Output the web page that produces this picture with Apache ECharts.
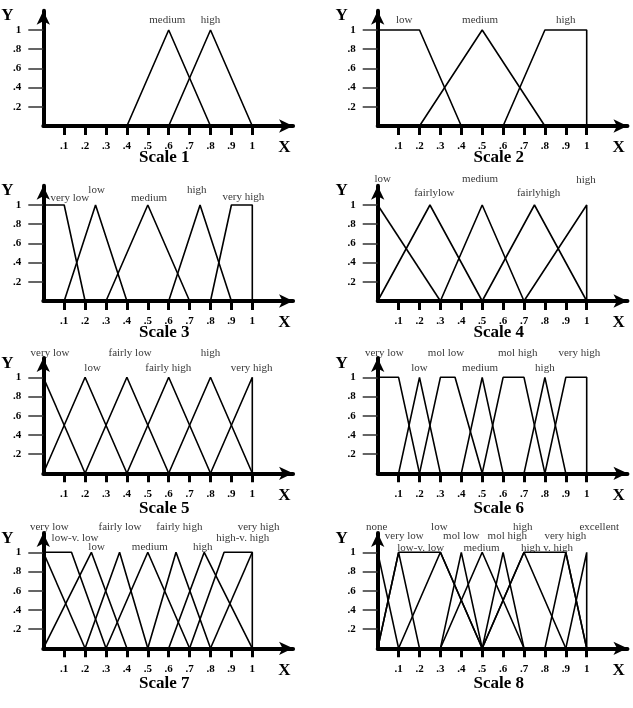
<!DOCTYPE html>
<html><head><meta charset="utf-8">
<script src="https://cdn.jsdelivr.net/npm/echarts@6/dist/echarts.min.js"></script>
<style>html,body{margin:0;padding:0;background:#fff}#c{width:633px;height:708px}</style>
</head><body><div id="c"></div>
<script>
// ---- tick values and labels ----
const xTicks = [0.1,0.2,0.3,0.4,0.5,0.6,0.7,0.8,0.9,1];
const xTickLabels = ['.1','.2','.3','.4','.5','.6','.7','.8','.9','1'];
const yTicks = [0.2,0.4,0.6,0.8,1];
const yTickLabels = ['.2','.4','.6','.8','1'];
const scaleTitles = ['Scale 1','Scale 2','Scale 3','Scale 4','Scale 5','Scale 6','Scale 7','Scale 8'];

// ---- Scale 1 ----
const s1Terms = ['medium','high'];
const s1Curves = [
  [[0.4,0],[0.6,1],[0.8,0]],
  [[0.6,0],[0.8,1],[1,0]]
];
// ---- Scale 2 ----
const s2Terms = ['low','medium','high'];
const s2Curves = [
  [[0,1],[0.2,1],[0.4,0]],
  [[0.2,0],[0.5,1],[0.8,0]],
  [[0.6,0],[0.8,1],[1,1],[1,0]]
];
// ---- Scale 3 ----
const s3Terms = ['very low','low','medium','high','very high'];
const s3Curves = [
  [[0,1],[0.1,1],[0.2,0]],
  [[0.1,0],[0.25,1],[0.4,0]],
  [[0.3,0],[0.5,1],[0.7,0]],
  [[0.6,0],[0.75,1],[0.9,0]],
  [[0.8,0],[0.9,1],[1,1],[1,0]]
];
// ---- Scale 4 ----
const s4Terms = ['low','fairlylow','medium','fairlyhigh','high'];
const s4Curves = [
  [[0,1],[0.3,0]],
  [[0,0],[0.25,1],[0.5,0]],
  [[0.3,0],[0.5,1],[0.7,0]],
  [[0.5,0],[0.75,1],[1,0]],
  [[0.7,0],[1,1],[1,0]]
];
// ---- Scale 5 ----
const s5Terms = ['very low','low','fairly low','fairly high','high','very high'];
const s5Curves = [
  [[0,1],[0.2,0]],
  [[0,0],[0.2,1],[0.4,0]],
  [[0.2,0],[0.4,1],[0.6,0]],
  [[0.4,0],[0.6,1],[0.8,0]],
  [[0.6,0],[0.8,1],[1,0]],
  [[0.8,0],[1,1],[1,0]]
];
// ---- Scale 6 ----
const s6Terms = ['very low','low','mol low','medium','mol high','high','very high'];
const s6Curves = [
  [[0,1],[0.1,1],[0.2,0]],
  [[0.1,0],[0.2,1],[0.3,0]],
  [[0.2,0],[0.3,1],[0.37,1],[0.5,0]],
  [[0.4,0],[0.5,1],[0.6,0]],
  [[0.5,0],[0.6,1],[0.7,1],[0.8,0]],
  [[0.7,0],[0.8,1],[0.9,0]],
  [[0.8,0],[0.9,1],[1,1],[1,0]]
];
// ---- Scale 7 ----
const s7Terms = ['very low','low-v. low','low','fairly low','medium','fairly high','high','high-v. high','very high'];
const s7Curves = [
  [[0,1],[0.135,1],[0.3,0]],
  [[0,1],[0.2,0]],
  [[0,0],[0.23,1],[0.4,0]],
  [[0.2,0],[0.365,1],[0.5,0]],
  [[0.3,0],[0.5,1],[0.7,0]],
  [[0.5,0],[0.635,1],[0.8,0]],
  [[0.6,0],[0.77,1],[1,0]],
  [[0.8,0],[1,1]],
  [[0.7,0],[0.865,1],[1,1],[1,0]]
];
// ---- Scale 8 ----
const s8Terms = ['none','very low','low-v. low','low','mol low','medium','mol high','high','high v. high','very high','excellent'];
const s8Curves = [
  [[0,1],[0.1,0]],
  [[0,0],[0.1,1],[0.2,0]],
  [[0,0],[0.1,1],[0.3,1],[0.5,0]],
  [[0.1,0],[0.3,1],[0.5,0]],
  [[0.3,0],[0.4,1],[0.5,0]],
  [[0.3,0],[0.5,1],[0.7,0]],
  [[0.5,0],[0.6,1],[0.7,0]],
  [[0.5,0],[0.7,1],[0.9,0]],
  [[0.5,0],[0.7,1],[0.9,1],[1,0]],
  [[0.8,0],[0.9,1],[1,0]],
  [[0.9,0],[1,1],[1,0]]
];

// ---- layout (positions of term labels, in axis units) ----
const s1LabelPos = [[0.593,1.10],[0.80,1.10]];
const s2LabelPos = [[0.127,1.10],[0.49,1.10],[0.90,1.10]];
const s3LabelPos = [[0.127,1.07],[0.255,1.16],[0.506,1.075],[0.734,1.16],[0.957,1.085]];
const s4LabelPos = [[0.024,1.27],[0.271,1.12],[0.49,1.27],[0.77,1.12],[0.997,1.26]];
const s5LabelPos = [[0.032,1.25],[0.236,1.10],[0.415,1.25],[0.598,1.10],[0.80,1.25],[0.997,1.10]];
const s6LabelPos = [[0.032,1.25],[0.20,1.10],[0.327,1.25],[0.49,1.10],[0.67,1.25],[0.80,1.10],[0.965,1.25]];
const s7LabelPos = [[0.029,1.266],[0.152,1.15],[0.255,1.056],[0.367,1.266],[0.51,1.056],[0.651,1.266],[0.763,1.056],[0.954,1.15],[1.03,1.266]];
const s8LabelPos = [[-0.005,1.266],[0.127,1.17],[0.206,1.046],[0.295,1.266],[0.40,1.17],[0.497,1.046],[0.62,1.17],[0.694,1.266],[0.81,1.046],[0.898,1.17],[1.06,1.266]];

const panels = [
  [s1Terms,s1Curves,s1LabelPos],[s2Terms,s2Curves,s2LabelPos],
  [s3Terms,s3Curves,s3LabelPos],[s4Terms,s4Curves,s4LabelPos],
  [s5Terms,s5Curves,s5LabelPos],[s6Terms,s6Curves,s6LabelPos],
  [s7Terms,s7Curves,s7LabelPos],[s8Terms,s8Curves,s8LabelPos]
];

const colX = [43.3, 377.7];
const rowY = [126, 301, 473.3, 648.3];
const unitX = 209, unitY = 96;
const xMax = 1.195, yMax = 1.2;
const serif = 'Liberation Serif';

function lab(vals, labels){
  return v => { const i = vals.findIndex(t => Math.abs(t - v) < 1e-6); return i < 0 ? '' : labels[i]; };
}

const grids = [], xAxes = [], yAxes = [], series = [], graphics = [];
panels.forEach((p, i) => {
  const ox = colX[i % 2], oy = rowY[Math.floor(i / 2)];
  const row = Math.floor(i / 2);
  grids.push({left: ox, top: oy - yMax * unitY, width: xMax * unitX, height: yMax * unitY, outerBoundsMode: 'none', containLabel: false});
  xAxes.push({
    gridIndex: i, type: 'value', min: 0, max: xMax,
    axisLine: {show: true, onZero: false, symbol: ['none','arrow'], symbolSize: [10,14], lineStyle: {color: '#000', width: 4}},
    axisTick: {show: true, customValues: xTicks, length: 9, lineStyle: {color: '#000', width: 3}},
    axisLabel: {show: true, customValues: xTicks, formatter: lab(xTicks, xTickLabels), margin: 15,
      fontFamily: serif, fontWeight: 'bold', fontSize: 11, color: '#000'},
    splitLine: {show: false}
  });
  yAxes.push({
    gridIndex: i, type: 'value', min: 0, max: yMax,
    axisLine: {show: true, onZero: false, symbol: ['none','arrow'], symbolSize: [10,14], lineStyle: {color: '#000', width: 4}},
    axisTick: {show: true, customValues: yTicks, length: 15, lineStyle: {color: '#333', width: 1.5}},
    axisLabel: {show: true, customValues: yTicks, formatter: lab(yTicks, yTickLabels), margin: 22,
      fontFamily: serif, fontWeight: 'bold', fontSize: 11, color: '#000'},
    splitLine: {show: false}
  });
  const [terms, curves, pos] = p;
  curves.forEach((c, k) => {
    series.push({type: 'line', name: terms[k], xAxisIndex: i, yAxisIndex: i, data: c,
      showSymbol: false, symbol: 'none', clip: false, silent: true,
      lineStyle: {color: '#000', width: 1.6}});
  });
  series.push({type: 'scatter', xAxisIndex: i, yAxisIndex: i, clip: false, silent: true,
    symbolSize: 1, itemStyle: {color: 'rgba(0,0,0,0)'},
    data: terms.map((t, k) => ({name: t, value: pos[k]})),
    label: {show: true, position: 'inside', formatter: '{b}', fontFamily: serif, fontSize: 11, color: '#000'}});
  graphics.push({type: 'text', x: ox - 36, y: oy - 110, style: {text: 'Y', font: 'bold 17px ' + serif, fill: '#000', align: 'center', verticalAlign: 'middle'}});
  graphics.push({type: 'text', x: ox + 241, y: oy + 22, style: {text: 'X', font: 'bold 17px ' + serif, fill: '#000', align: 'center', verticalAlign: 'middle'}});
  graphics.push({type: 'text', x: ox + 121, y: oy + (row < 2 ? 32 : 35), style: {text: scaleTitles[i], font: 'bold 17px ' + serif, fill: '#000', align: 'center', verticalAlign: 'middle'}});
});

const chart = echarts.init(document.getElementById('c'), null, {renderer: 'canvas'});
chart.setOption({
  animation: false,
  backgroundColor: '#fff',
  grid: grids, xAxis: xAxes, yAxis: yAxes, series: series, graphic: graphics
});
</script></body></html>
